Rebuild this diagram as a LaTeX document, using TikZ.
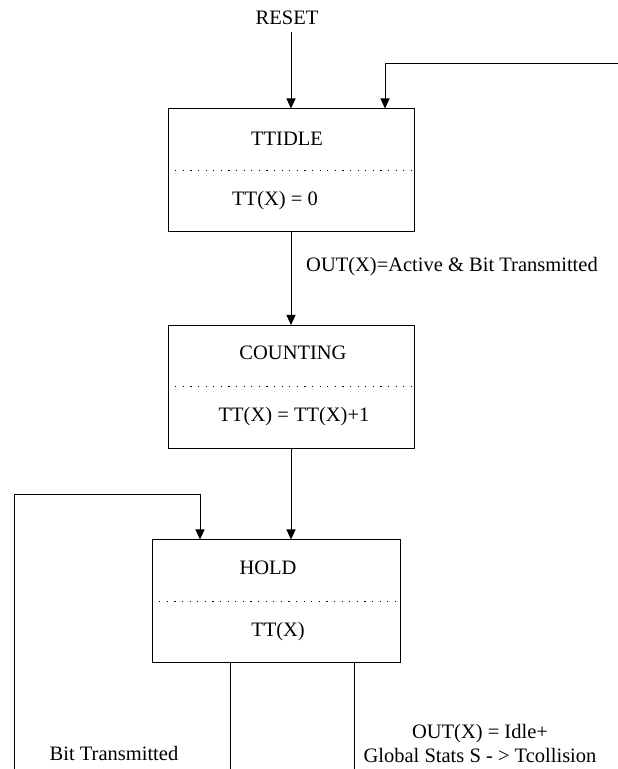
\documentclass[tikz,border=0pt]{standalone}
\usepackage{fontspec}
\setmainfont{Liberation Serif}
\usetikzlibrary{calc,arrows.meta}

\tikzset{
  statebox/.style={draw, line width=1pt, minimum width=246pt, minimum height=123pt, inner sep=0pt},
  sepline/.style={line width=1pt, dash pattern=on 1.2pt off 6.4pt},
  flow/.style={line width=0.9pt, -{Triangle[length=10pt,width=9pt]}},
  wire/.style={line width=0.9pt},
  lbl/.style={font=\fontsize{20.5}{24}\selectfont, inner sep=0pt},
}

\begin{document}
\begin{tikzpicture}[x=1pt,y=1pt]
\useasboundingbox (0,0) rectangle (618,769);

% the three states
\node [statebox] (idle) at (291,598.5) {};
\node [statebox] (count) at (291,382) {};
\node [statebox, minimum width=248pt] (hold) at (276,167.5) {};
\draw [sepline] (idle.west) -- (idle.east);
\draw [sepline] (count.west) -- (count.east);
\draw [sepline] (hold.west) -- (hold.east);

\node [lbl] (idlename) at ($(idle.center)+(-4,31.5)$) {TTIDLE};
\node [lbl] (idleval) at ($(idle.center)+(-16,-30)$) {TT(X) = 0};
\node [lbl] (countname) at ($(count.center)+(2,34)$) {COUNTING};
\node [lbl] (countval) at ($(count.center)+(3,-30)$) {TT(X) = TT(X)+1};
\node [lbl] (holdname) at ($(hold.center)+(-8,33.5)$) {HOLD};
\node [lbl] (holdval) at ($(hold.center)+(2,-30)$) {TT(X)};

% entry and feedback into TTIDLE
\node [lbl] (reset) at (287,751) {RESET};
\draw [flow] ([yshift=-7pt]reset.south -| idle.north) -- (idle.north);
\coordinate (fbin) at (618,706);
\draw [flow] (fbin) -| ($(idle.north)+(94,0)$);

% TTIDLE -> COUNTING -> HOLD
\draw [flow] (idle.south) -- (count.north);
\node [lbl, anchor=west] (activelbl) at (306,502) {OUT(X)=Active \& Bit Transmitted};
\draw [flow] (count.south) -- (count.south |- hold.north);

% loop back into HOLD
\coordinate (loopin) at (14,0);
\draw [flow] (loopin) |- ($(hold.north)+(-76,45)$) -- ($(hold.north)+(-76,0)$);

% exits from HOLD
\coordinate (exitbit) at (230,0);
\coordinate (exitidle) at (354,0);
\draw [wire] (hold.south -| exitbit) -- (exitbit);
\draw [wire] (hold.south -| exitidle) -- (exitidle);
\node [lbl] (bitlbl) at (114,16) {Bit Transmitted};
\node [lbl, align=center] (idlelbl) at (480,26) {OUT(X) = Idle+\\Global Stats S - > Tcollision};
\end{tikzpicture}
\end{document}
